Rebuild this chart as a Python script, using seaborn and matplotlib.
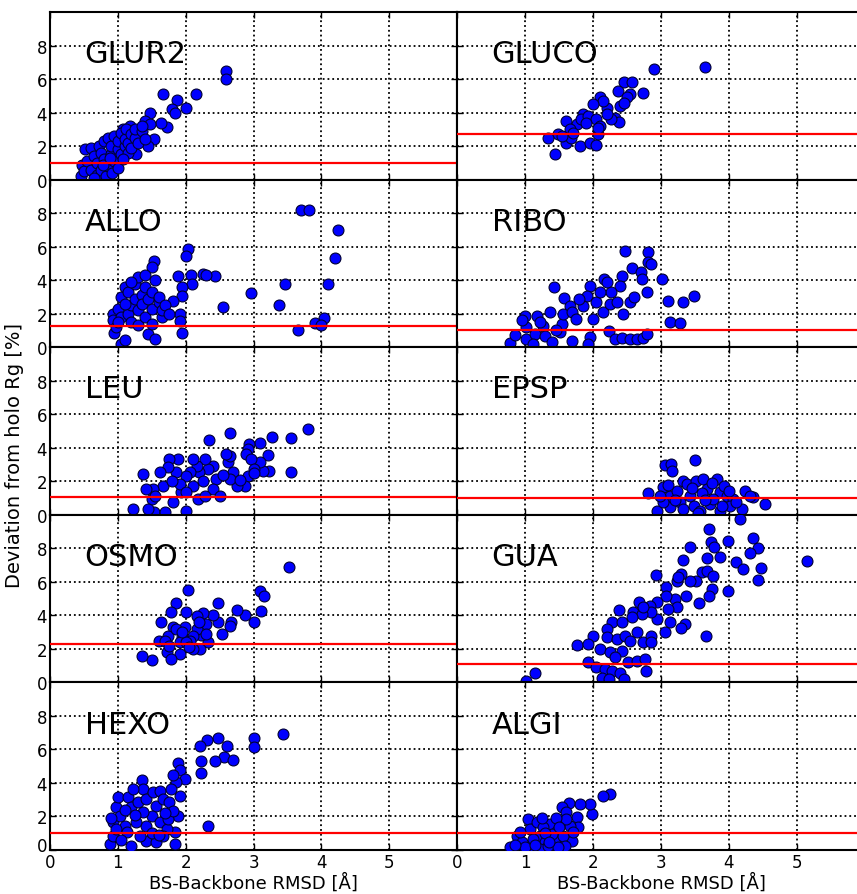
import numpy as np
import pandas as pd
import matplotlib
matplotlib.use("Agg")
import matplotlib.pyplot as plt
import matplotlib.transforms as mtransforms
import seaborn as sns

# panel names and the holo reference level (red line) for each
names = ["GLUR2", "GLUCO", "ALLO", "RIBO", "LEU", "EPSP", "OSMO", "GUA", "HEXO", "ALGI"]
holo_ref = [1.0, 2.7, 1.27, 1.0, 1.08, 1.0, 2.29, 1.1, 1.01, 1.01]

# (BS-backbone RMSD, deviation from holo Rg)
glur2 = [(2.6, 6.48), (2.6, 5.98), (1.67, 5.13), (2.15, 5.13), (1.87, 4.75), (1.8, 4.2), (1.84, 4.0),
         (2.0, 4.3), (1.47, 4.0), (1.73, 3.14), (1.64, 3.4), (1.4, 3.5), (1.47, 3.3), (1.32, 2.8),
         (1.53, 2.4), (1.45, 2.0), (1.27, 1.5), (1.18, 3.2), (1.08, 3.0),
         (0.45, 0.2), (0.47, 0.9), (0.5, 0.5), (0.52, 1.8), (0.55, 1.1), (0.6, 0.6), (0.6, 1.9),
         (0.65, 1.4), (0.7, 0.3), (0.7, 1.0), (0.72, 2.0), (0.75, 0.6), (0.75, 1.6), (0.8, 2.3),
         (0.8, 1.2), (0.82, 0.2), (0.85, 0.8), (0.85, 2.5), (0.9, 1.5), (0.9, 2.0), (0.92, 0.4),
         (0.95, 1.1), (0.95, 2.6), (1.0, 1.8), (1.0, 2.3), (1.0, 0.7), (1.05, 1.5), (1.05, 2.8),
         (1.1, 2.0), (1.1, 2.4), (1.12, 3.0), (1.15, 1.6), (1.15, 2.2), (1.2, 2.7), (1.2, 1.9),
         (1.25, 2.5), (1.25, 3.0), (1.3, 2.2), (1.35, 2.9), (1.35, 3.2), (1.4, 2.4), (0.65, 0.1),
         (0.78, 0.9), (0.88, 1.3), (1.08, 1.2)]
gluco = [(3.65, 6.74), (2.89, 6.58), (2.74, 5.19), (2.45, 5.8), (2.57, 5.8), (2.37, 5.3), (2.54, 5.1),
         (2.5, 4.9), (2.4, 4.4), (2.2, 4.3), (2.1, 4.9), (2.15, 4.7), (2.0, 4.5), (2.32, 3.7),
         (2.38, 3.44), (2.27, 3.6), (1.86, 3.9), (1.61, 3.5), (1.76, 3.3), (1.83, 3.6), (1.93, 3.8),
         (2.05, 3.6), (2.1, 3.2), (1.66, 3.0), (1.49, 2.7), (1.34, 2.5), (1.44, 1.55), (1.61, 2.17),
         (1.68, 2.5), (1.81, 2.0), (1.95, 2.2), (2.05, 2.05), (2.08, 2.7), (2.08, 3.1), (1.9, 3.4),
         (2.2, 3.9), (1.7, 2.8), (2.45, 4.6), (1.55, 2.6)]
allo = [(3.7, 8.2), (3.82, 8.2), (4.25, 7.0), (4.2, 5.35), (4.1, 3.8), (4.04, 1.74), (3.91, 1.43),
        (3.99, 1.33), (3.66, 1.0), (3.37, 2.52), (3.46, 3.8), (2.97, 3.23), (2.55, 2.42), (2.43, 4.23),
        (2.25, 4.36), (2.3, 4.3), (2.08, 4.3), (2.09, 3.75), (2.03, 5.85), (2.0, 5.45), (1.94, 3.57),
        (1.94, 3.07), (1.91, 1.98), (1.91, 1.58), (1.94, 0.83), (1.89, 4.27), (1.81, 2.78), (1.54, 5.12),
        (1.5, 4.76), (0.93, 2.0), (0.93, 1.6), (0.95, 0.85), (0.97, 1.2), (1.0, 2.3), (1.05, 3.0),
        (1.05, 1.8), (1.05, 0.2), (1.1, 0.4), (1.1, 3.6), (1.15, 2.0), (1.15, 3.3), (1.2, 2.5),
        (1.2, 1.5), (1.25, 3.8), (1.25, 2.9), (1.3, 2.2), (1.3, 4.2), (1.3, 1.3), (1.35, 3.1),
        (1.35, 2.6), (1.4, 3.6), (1.4, 1.8), (1.45, 0.8), (1.45, 2.9), (1.5, 3.3), (1.5, 2.3),
        (1.5, 1.4), (1.55, 4.0), (1.55, 0.5), (1.6, 2.7), (1.6, 3.0), (1.65, 1.8), (1.65, 2.2),
        (1.7, 2.5), (1.75, 2.0), (1.4, 4.3), (1.2, 3.9), (1.1, 2.6), (1.0, 1.5)]
ribo = [(2.47, 5.72), (2.81, 5.66), (2.81, 5.06), (2.85, 4.99), (2.57, 4.7), (2.7, 4.47), (2.72, 4.07),
        (3.02, 4.07), (3.48, 3.07), (3.32, 2.67), (3.11, 2.77), (3.13, 1.52), (3.28, 1.44), (2.79, 3.3),
        (2.16, 4.07), (2.42, 4.27), (2.4, 3.67), (1.42, 3.57), (1.57, 2.93), (1.96, 3.63), (1.91, 3.07),
        (2.05, 2.67), (2.15, 2.08), (2.0, 1.68), (2.25, 2.58), (2.35, 2.67), (2.44, 1.98), (2.54, 2.67),
        (2.27, 3.27), (1.86, 2.47), (1.66, 2.47), (2.23, 0.95), (2.32, 0.5), (2.42, 0.55), (2.54, 0.5),
        (2.64, 0.5), (2.74, 0.55), (2.79, 0.8), (1.95, 0.62), (1.93, 0.19), (1.69, 0.35), (0.78, 0.25),
        (0.85, 0.75), (1.0, 1.88), (1.17, 1.88), (1.02, 1.19), (1.02, 0.49), (1.15, 0.79), (1.27, 1.29),
        (1.29, 0.69), (1.39, 0.29), (1.37, 2.08), (1.51, 0.89), (1.54, 1.38), (1.56, 1.98), (1.69, 2.08),
        (1.12, 0.19), (1.22, 1.48), (1.8, 2.9), (2.1, 3.3), (1.75, 1.7), (0.95, 1.6), (1.45, 1.0),
        (2.6, 3.0), (2.2, 3.9)]
leu = [(3.81, 5.12), (3.55, 4.58), (3.55, 2.53), (3.27, 4.62), (3.1, 4.28), (3.21, 3.57), (3.23, 2.59),
       (3.14, 2.59), (3.09, 3.13), (2.66, 4.88), (2.35, 4.48), (2.94, 4.22), (2.92, 3.92), (2.89, 3.63),
       (2.97, 3.33), (3.01, 2.73), (2.92, 2.34), (2.87, 1.74), (2.7, 2.53), (2.75, 1.74), (2.65, 2.14),
       (2.62, 3.13), (2.65, 3.53), (2.6, 3.63), (2.45, 2.14), (2.4, 1.54), (2.5, 1.14), (2.4, 2.93),
       (2.33, 2.73), (2.28, 3.33), (2.2, 2.53), (2.16, 2.93), (2.11, 3.33), (2.06, 2.53), (2.11, 1.74),
       (2.18, 0.94), (2.0, 2.34), (1.93, 1.34), (1.91, 1.84), (1.86, 2.53), (1.88, 3.33), (1.76, 3.33),
       (1.74, 2.83), (1.81, 0.74), (1.67, 1.74), (1.62, 2.53), (1.52, 1.54), (1.42, 1.54), (1.37, 2.43),
       (1.5, 0.94), (1.54, 0.15), (1.45, 0.35), (1.69, 0.15), (1.23, 0.35), (2.0, 0.25), (2.0, 1.34),
       (2.28, 1.14), (1.55, 1.1), (2.25, 2.0), (2.55, 2.4), (2.8, 2.1), (1.8, 2.0), (3.0, 2.5)]
epsp = [(3.5, 3.29), (3.06, 2.97), (3.14, 3.03), (3.16, 2.63), (2.81, 1.28), (4.53, 0.64), (4.24, 1.44),
        (4.36, 1.04), (4.19, 0.35), (3.03, 1.64), (3.13, 1.14), (3.33, 2.04), (3.38, 1.84), (3.52, 2.04),
        (3.62, 2.14), (3.82, 2.14), (3.43, 1.14), (3.67, 1.54), (3.87, 1.34), (3.97, 1.14), (4.06, 0.94),
        (2.94, 0.25), (3.13, 0.45), (3.28, 0.74), (3.48, 0.54), (3.57, 0.25), (3.72, 0.64), (3.87, 0.25),
        (4.01, 0.54), (3.03, 0.74), (3.23, 1.44), (3.77, 0.94), (3.92, 1.74), (4.11, 0.74), (4.31, 1.14),
        (3.33, 0.35), (2.99, 1.14), (3.6, 1.3), (3.45, 1.6), (3.2, 0.9), (3.9, 0.5), (3.65, 0.9),
        (3.1, 1.8), (4.0, 1.4), (3.55, 0.1), (3.75, 1.9)]
osmo = [(3.52, 6.9), (3.09, 5.47), (3.15, 5.17), (3.11, 4.24), (3.0, 3.58), (2.87, 4.02), (2.75, 4.34),
        (2.67, 3.62), (2.65, 3.38), (2.54, 2.88), (2.47, 4.71), (2.48, 3.58), (2.4, 4.02), (2.25, 4.14),
        (2.3, 3.48), (2.33, 2.43), (2.21, 1.99), (2.23, 2.82), (2.16, 3.18), (2.11, 2.78), (2.03, 5.53),
        (2.0, 4.18), (1.99, 3.28), (1.94, 2.68), (1.91, 1.69), (1.86, 4.73), (1.79, 4.18), (1.81, 3.28),
        (1.74, 2.78), (1.72, 1.79), (1.79, 1.39), (1.64, 3.58), (1.61, 2.49), (1.5, 1.35), (1.35, 1.59),
        (2.06, 2.49), (2.11, 1.99), (1.69, 2.49), (1.91, 2.39), (2.01, 2.39), (2.16, 3.98), (1.86, 3.18),
        (2.2, 3.6), (1.95, 3.0), (1.75, 2.2), (2.3, 2.9), (2.05, 2.1)]
gua = [(5.14, 7.22), (4.16, 9.75), (3.71, 9.15), (3.99, 8.46), (4.35, 8.6), (4.42, 8.0), (4.31, 7.7),
       (4.11, 7.16), (4.2, 6.76), (4.47, 6.82), (4.42, 6.13), (3.73, 8.36), (3.78, 8.06), (3.87, 7.46),
       (3.67, 7.4), (3.43, 8.06), (3.32, 7.3), (3.6, 6.6), (3.68, 6.67), (3.77, 6.37), (3.52, 6.07),
       (3.42, 6.07), (3.3, 6.47), (3.23, 6.07), (3.25, 6.27), (3.99, 5.47), (3.75, 5.57), (3.7, 5.17),
       (3.37, 5.13), (3.56, 4.72), (3.2, 4.97), (3.23, 4.48), (3.08, 5.67), (3.08, 5.17), (2.93, 6.42),
       (3.1, 4.38), (3.13, 3.58), (3.06, 2.99), (3.35, 3.48), (3.3, 3.25), (3.66, 2.75), (2.94, 4.77),
       (2.94, 3.78), (2.84, 4.58), (2.86, 4.18), (2.67, 4.82), (2.59, 4.22), (2.72, 4.08), (2.74, 4.48),
       (2.57, 3.88), (2.38, 4.34), (2.28, 3.58), (2.42, 3.58), (2.2, 3.18), (2.0, 2.78), (2.2, 2.69),
       (2.35, 2.59), (2.47, 2.78), (2.54, 2.49), (2.64, 2.98), (2.74, 2.39), (2.86, 2.78), (2.86, 2.39),
       (1.76, 2.23), (1.93, 2.29), (2.1, 1.99), (2.25, 1.79), (2.42, 1.89), (2.32, 1.49), (2.52, 1.19),
       (2.64, 1.29), (2.76, 1.39), (2.78, 0.69), (1.93, 1.19), (2.05, 0.89), (2.18, 0.79), (2.28, 0.69),
       (2.4, 0.59), (2.13, 0.29), (2.23, 0.19), (2.45, 0.19), (1.14, 0.59), (1.01, 0.06)]
hexo = [(3.43, 6.92), (3.0, 6.66), (3.0, 6.12), (2.47, 6.68), (2.31, 6.58), (2.21, 6.18), (2.61, 6.18),
        (2.57, 5.57), (2.7, 5.37), (2.43, 5.31), (2.23, 5.31), (2.23, 4.57), (2.33, 1.43), (1.89, 5.19),
        (1.91, 4.79), (1.99, 4.23), (1.86, 4.04), (1.91, 3.24), (1.89, 2.05), (1.84, 1.05), (1.84, 0.36),
        (1.35, 4.17), (1.37, 3.64), (0.88, 0.36), (0.93, 0.85), (0.93, 1.65), (0.98, 2.54), (1.0, 3.14),
        (1.15, 3.14), (1.2, 2.54), (1.03, 2.05), (1.1, 1.45), (1.2, 0.26), (1.3, 2.84), (1.42, 3.04),
        (1.52, 3.44), (1.62, 3.54), (1.57, 2.64), (1.67, 3.04), (1.5, 2.05), (1.42, 1.45), (1.42, 0.56),
        (1.57, 0.46), (1.62, 1.65), (1.72, 1.25), (1.74, 1.85), (1.76, 2.84), (1.79, 3.64), (1.67, 0.85),
        (0.98, 1.25), (1.27, 1.65), (1.32, 0.85), (1.13, 1.05), (1.23, 3.64), (1.37, 2.25), (1.81, 2.35),
        (0.9, 1.9), (1.05, 0.6), (1.5, 1.0), (1.7, 2.2), (1.25, 2.1), (1.6, 0.9), (1.82, 4.5), (1.1, 2.4)]
algi = [(2.25, 3.34), (2.14, 3.2), (1.98, 2.15), (1.96, 2.74), (1.81, 2.74), (1.64, 2.8), (1.54, 2.54),
        (1.61, 2.25), (1.76, 1.95), (1.78, 1.35), (1.69, 0.56), (1.05, 1.85), (0.78, 0.16), (0.88, 0.85),
        (0.95, 0.46), (1.07, 1.25), (1.17, 1.65), (1.22, 0.85), (1.29, 0.46), (1.37, 1.55), (1.44, 0.66),
        (1.47, 1.15), (1.54, 1.65), (1.56, 0.85), (1.59, 0.26), (1.66, 1.45), (1.71, 1.05), (1.22, 0.06),
        (1.07, 0.16), (1.34, 0.26), (0.93, 1.05), (1.12, 0.66), (1.27, 1.35), (1.39, 0.95), (1.49, 0.16),
        (1.61, 1.85), (1.0, 0.2), (1.3, 1.0), (1.45, 1.9), (1.15, 0.3), (1.35, 0.5), (0.85, 0.3),
        (1.5, 1.4), (1.25, 1.9)]

panels = [glur2, gluco, allo, ribo, leu, epsp, osmo, gua, hexo, algi]

sns.set_style("white")
plt.rcParams['font.family'] = ['DejaVu Sans']
plt.rcParams['text.color'] = 'black'
plt.rcParams['axes.labelcolor'] = 'black'

W, H = 857.0, 895.0
fig = plt.figure(figsize=(W / 100, H / 100), dpi=100)
top0, bot0 = 13.0, 851.0
row_h = (bot0 - top0) / 5

for i, (name, pts, ref) in enumerate(zip(names, panels, holo_ref)):
    r, c = divmod(i, 2)
    left = 50.0 if c == 0 else 457.0
    width = 407.0 if c == 0 else 408.0   # right column runs off the edge, like the original crop
    top = top0 + r * row_h
    ax = fig.add_axes([left / W, 1 - (top + row_h) / H, width / W, row_h / H])

    d = pd.DataFrame(pts, columns=["rmsd", "dev"])
    sns.scatterplot(data=d, x="rmsd", y="dev", ax=ax, color="blue", edgecolor="#000033",
                    linewidth=0.8, s=62, zorder=3)
    ax.axhline(ref, color="red", lw=1.6, zorder=4)

    ax.set_xlim(0, 6)
    ax.set_ylim(0, 10)
    ax.set_xticks(range(7))
    ax.set_yticks([0, 2, 4, 6, 8])
    ax.set_axisbelow(True)
    ax.grid(True, color="black", linestyle=":", linewidth=1.3)
    for sp in ax.spines.values():
        sp.set_color("black")
        sp.set_linewidth(1.5)
    ax.tick_params(direction="in", length=4, width=1, colors="black", labelsize=12,
                   bottom=True, left=True, top=True, right=True, pad=2)

    ax.text(0.085, 0.70, name, transform=ax.transAxes, fontsize=22, va="baseline", ha="left",
            color="black")

    ax.set_ylabel("")
    if c == 1:
        ax.tick_params(labelleft=False)
    if r == 4:
        ax.set_xticklabels(["0", "1", "2", "3", "4", "5", ""])
        ax.set_xlabel("BS-Backbone RMSD [Å]", fontsize=13, labelpad=1)
        if c == 0:
            # lift the bottom-left "0" a little so it clears the x tick label below it
            lab0 = ax.get_yticklabels()[0]
            shift = mtransforms.ScaledTranslation(0, 4 / 72, fig.dpi_scale_trans)
            lab0.set_transform(lab0.get_transform() + shift)
    else:
        ax.tick_params(labelbottom=False)
        ax.set_xlabel("")

fig.text(15 / W, 1 - 456 / H, "Deviation from holo Rg [%]", rotation=90, fontsize=14,
         ha="center", va="center", color="black")

fig.savefig("out.png", dpi=100)
